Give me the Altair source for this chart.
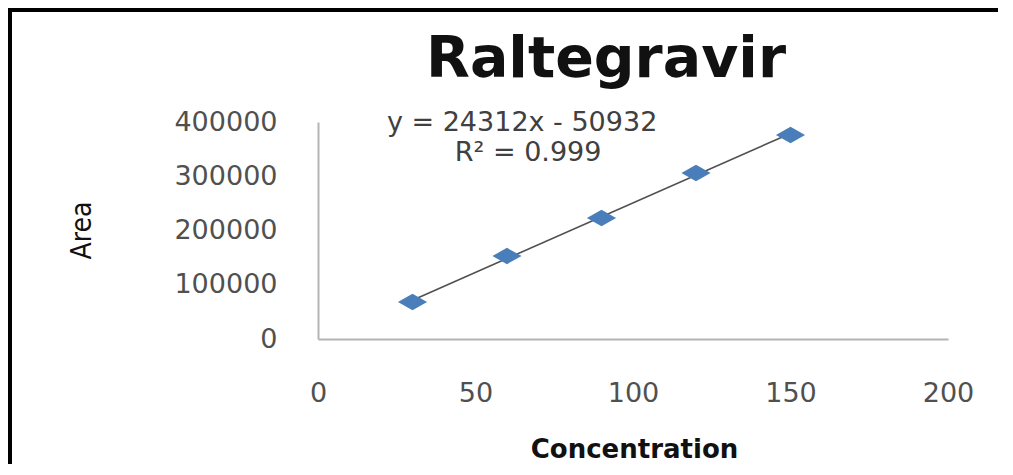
import altair as alt
import pandas as pd

# data
concentration = [30, 60, 90, 120, 150]
area = [68200, 153000, 223000, 306000, 376000]

x_ticks = [0, 50, 100, 150, 200]
y_ticks = [0, 100000, 200000, 300000, 400000]

eq_text = ["y = 24312x - 50932", "R² = 0.999"]
eq_x = [64.8, 66.7]
eq_y = [398000, 343000]

title_text = ["Raltegravir"]

df = pd.DataFrame({"conc": concentration, "area": area})
eq_df = pd.DataFrame({"label": eq_text, "x": eq_x, "y": eq_y})
title_df = pd.DataFrame({"label": title_text})
frame_df = pd.DataFrame({"a": [0]})

FONT = "DejaVu Sans"
LABEL_COLOR = "#505050"

x_enc = alt.X(
    "conc:Q",
    scale=alt.Scale(domain=[0, 200], nice=False, zero=True),
    axis=alt.Axis(
        values=x_ticks,
        grid=False,
        ticks=False,
        tickSize=0,
        domainColor="#b4b4b4",
        domainWidth=2,
        labelFont=FONT,
        labelFontSize=27,
        labelColor=LABEL_COLOR,
        labelPadding=54,
        labelBaseline="middle",
        labelFlush=False,
        title="Concentration",
        titleFont=FONT,
        titleFontSize=26,
        titleFontWeight="bold",
        titleColor="#111111",
        titleX=316,
        titleY=110,
        titleAlign="center",
        titleBaseline="middle",
    ),
)
y_enc = alt.Y(
    "area:Q",
    scale=alt.Scale(domain=[0, 400000], nice=False),
    axis=alt.Axis(
        values=y_ticks,
        format="d",
        grid=False,
        ticks=False,
        tickSize=0,
        domainColor="#b4b4b4",
        domainWidth=2,
        labelFont=FONT,
        labelFontSize=27,
        labelColor=LABEL_COLOR,
        labelPadding=41,
        labelFlush=False,
        title="Area",
        titleFont="DejaVu Sans Condensed, Liberation Sans Narrow, DejaVu Sans",
        titleFontSize=28,
        titleFontWeight="normal",
        titleColor="#111111",
        titleX=-236,
        titleY=108,
        titleAngle=270,
        titleAlign="center",
        titleBaseline="middle",
    ),
)

points = alt.Chart(df).mark_point(
    shape="M-1,0L0,-0.56L1,0L0,0.56Z",
    filled=True,
    size=850,
    fill="#4a7ebb",
    opacity=1,
    strokeWidth=0,
).encode(x=x_enc, y=y_enc)

trend = alt.Chart(df).transform_regression(
    "conc", "area"
).mark_line(color="#505050", strokeWidth=1.6).encode(
    x=alt.X("conc:Q"), y=alt.Y("area:Q")
)

eq = alt.Chart(eq_df).mark_text(
    font=FONT, fontSize=27, color="#404040", align="center", baseline="middle"
).encode(x="x:Q", y="y:Q", text="label:N")

title = alt.Chart(title_df).mark_text(
    font=FONT, fontSize=57, fontWeight="bold", color="#111111",
    align="center", baseline="alphabetic"
).encode(x=alt.value(288), y=alt.value(-45), text="label:N")

frame = alt.Chart(frame_df).mark_rect(
    fill=None, stroke="black", strokeWidth=4
).encode(
    x=alt.value(-308), x2=alt.value(720), y=alt.value(-112), y2=alt.value(500)
)

chart = alt.layer(trend, points, eq, title, frame).properties(
    width=630,
    height=217,
    background="white",
    autosize=alt.AutoSizeParams(type="none"),
    padding={"left": 310, "top": 114, "right": 50, "bottom": 125},
).configure_view(strokeWidth=0, stroke="transparent")

chart.save("out.html", embed_options={"renderer": "svg", "actions": False})
